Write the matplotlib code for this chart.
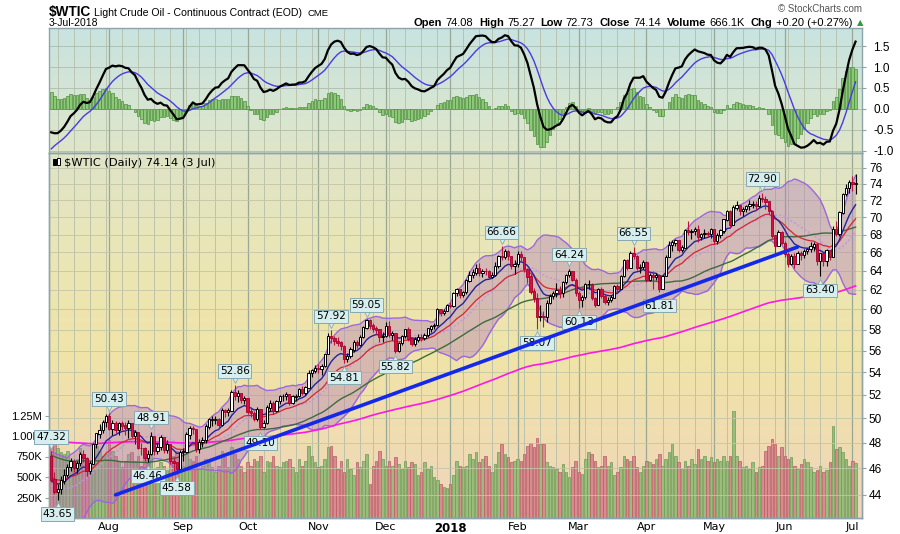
# wtic_chart.py
# Light crude oil daily candles with bands, averages, volume and a MACD panel
import numpy as np
import pandas as pd
import matplotlib
matplotlib.use("Agg")
import matplotlib.pyplot as plt
import matplotlib.colors as mcolors
from matplotlib.patches import Rectangle
from matplotlib.transforms import offset_copy
from matplotlib.ticker import FixedLocator, NullFormatter

# closes before the first visible bar, only used so the averages start where the chart's do
warmup_closes = [49.56, 49.62, 48.97, 49.33, 48.84, 47.66, 47.82, 45.52, 46.22, 46.43,
	45.88, 47.33, 47.83, 47.84, 48.85, 48.66, 49.07, 49.35, 50.33, 50.73,
	51.47, 51.36, 48.90, 49.80, 49.66, 48.32, 48.36, 47.66, 47.40, 48.19,
	45.72, 45.64, 45.83, 46.08, 46.46, 44.73, 44.46, 44.68, 43.20, 43.23,
	42.53, 42.74, 43.01, 43.38, 44.24, 44.74, 44.93, 46.04, 47.07]

start_date = "2017-07-06"
holidays = ["2017-09-04", "2017-11-23", "2017-12-25", "2018-01-01", "2018-01-15",
	"2018-02-19", "2018-03-30", "2018-05-28"]

first_open = 46.90

closes = [
	# Jul 2017
	45.13, 44.23, 44.40, 45.04, 45.49, 46.08, 46.54, 46.02, 46.40, 47.12, 46.79, 45.77, 46.34, 47.89, 48.75, 49.04, 49.71, 50.17,
	# Aug
	49.16, 49.59, 49.03, 49.58, 49.39, 49.17, 49.56, 48.59, 48.82, 47.59, 47.55, 46.78, 47.09, 48.51, 47.37, 47.64, 48.41, 47.43, 47.87, 46.57, 46.44, 45.96, 47.23,
	# Sep
	47.29, 48.66, 49.16, 49.09, 47.48, 48.07, 48.23, 49.30, 49.89, 49.89, 49.91, 49.48, 50.69, 50.55, 50.66, 52.22, 51.88, 52.14, 51.56, 51.67,
	# Oct
	50.58, 50.42, 49.98, 50.79, 49.29, 49.58, 50.92, 51.30, 50.60, 51.45, 51.87, 51.88, 52.04, 51.29, 51.84, 51.90, 52.47, 52.18, 52.64, 53.90, 54.15, 54.38,
	# Nov
	54.30, 54.54, 55.64, 57.35, 57.20, 56.90, 56.75, 56.40, 55.20, 55.50, 56.10, 56.80, 56.50, 57.30, 58.20, 58.90, 58.40, 58.10, 57.99, 57.30, 57.40,
	# Dec
	58.36, 57.47, 57.62, 55.96, 56.69, 57.36, 57.99, 57.14, 56.60, 57.04, 57.30, 57.16, 57.46, 58.09, 58.36, 58.47, 59.97, 59.64, 59.84, 60.42,
	# Jan 2018
	60.37, 61.63, 62.01, 61.44, 61.73, 62.96, 63.57, 63.80, 64.30, 63.73, 63.97, 63.95, 63.37, 63.57, 64.47, 65.61, 65.51, 66.14, 65.56, 64.50, 64.73,
	# Feb
	65.80, 65.45, 64.15, 63.39, 61.79, 61.15, 59.20, 59.29, 59.19, 60.60, 61.34, 61.68, 61.90, 61.68, 62.77, 63.55, 63.91, 63.01, 61.64,
	# Mar
	60.99, 61.25, 62.57, 62.60, 61.15, 60.40, 62.04, 61.36, 60.71, 60.96, 61.19, 62.34, 62.06, 63.40, 65.17, 64.30, 65.88, 65.55, 64.25, 64.38, 64.94,
	# Apr
	63.01, 63.51, 63.37, 63.54, 62.06, 63.42, 65.51, 66.82, 67.07, 67.39, 66.22, 66.52, 68.47, 68.29, 68.38, 68.64, 67.70, 68.05, 68.19, 68.10, 68.57,
	# May
	67.25, 67.93, 68.43, 69.72, 70.73, 69.06, 71.14, 71.36, 70.70, 70.96, 71.31, 71.49, 71.49, 71.28, 72.24, 72.13, 71.84, 70.71, 67.88, 66.73, 68.21, 67.04,
	# Jun
	65.81, 64.75, 65.52, 64.73, 65.95, 65.74, 66.10, 66.36, 66.64, 66.89, 65.06, 65.85, 65.07, 66.22, 65.54, 68.58, 68.08, 70.53, 72.76, 73.45, 74.15,
	# Jul
	73.94, 74.14,
]

highs = [
	47.32, 45.70, 44.80, 45.40, 45.95, 46.30, 46.80, 46.75, 46.60, 47.30, 47.40, 46.90, 46.60, 48.00, 48.80, 49.50, 49.90, 50.40,
	50.43, 49.90, 49.80, 49.70, 49.80, 49.70, 49.90, 49.60, 49.00, 48.90, 48.00, 47.70, 47.40, 48.91, 48.40, 48.00, 48.60, 48.40, 48.20, 47.80, 46.90, 46.50, 47.40,
	47.60, 48.90, 49.40, 49.40, 49.10, 48.30, 48.50, 49.50, 50.00, 50.20, 50.20, 50.00, 50.90, 50.80, 50.90, 52.40, 52.86, 52.40, 52.20, 51.90,
	51.70, 50.90, 50.60, 51.00, 50.80, 49.90, 51.10, 51.60, 51.50, 51.60, 52.00, 52.10, 52.30, 52.10, 52.00, 52.10, 52.60, 52.80, 52.80, 54.20, 54.30, 54.70,
	54.80, 54.80, 55.70, 57.70, 57.92, 57.40, 57.30, 56.90, 56.50, 55.80, 56.30, 57.00, 57.00, 57.50, 58.40, 59.05, 59.00, 58.60, 58.40, 58.10, 57.80,
	58.70, 58.80, 57.90, 57.70, 56.80, 57.50, 58.10, 58.30, 57.30, 57.30, 57.60, 57.60, 57.70, 58.20, 58.50, 58.60, 60.10, 60.00, 60.00, 60.50,
	60.70, 61.80, 62.20, 62.00, 61.90, 63.10, 64.00, 64.20, 64.70, 64.80, 64.20, 64.30, 64.10, 63.90, 64.90, 65.70, 66.66, 66.40, 66.30, 65.60, 65.20,
	66.20, 66.10, 65.40, 64.30, 63.70, 62.20, 61.70, 60.40, 59.80, 60.90, 61.60, 61.90, 62.70, 62.40, 62.90, 63.70, 64.24, 64.00, 63.20,
	61.90, 61.50, 62.70, 63.00, 62.70, 61.30, 62.20, 62.30, 61.60, 61.30, 61.50, 62.50, 62.60, 63.50, 65.30, 65.30, 66.20, 66.55, 65.70, 64.70, 65.20,
	65.10, 63.80, 64.00, 63.80, 63.70, 63.60, 65.70, 67.30, 67.40, 67.50, 67.40, 66.80, 68.60, 69.50, 68.60, 68.90, 69.10, 68.20, 68.60, 68.40, 68.80,
	68.60, 68.20, 68.60, 69.80, 70.80, 70.80, 71.40, 71.90, 71.40, 71.20, 71.50, 72.00, 71.90, 71.90, 72.60, 72.90, 72.50, 71.90, 70.80, 68.00, 68.50, 68.40,
	67.30, 66.00, 65.80, 65.90, 66.10, 66.20, 66.40, 66.50, 67.20, 67.10, 67.00, 65.90, 66.00, 66.40, 66.30, 69.00, 69.50, 70.70, 72.90, 74.00, 74.50,
	75.00, 75.27,
]

lows = [
	44.95, 44.05, 43.65, 44.10, 44.80, 45.30, 45.80, 45.70, 45.60, 46.20, 46.50, 45.40, 45.55, 46.30, 47.60, 48.40, 48.80, 49.30,
	49.00, 48.60, 48.80, 48.60, 49.00, 48.60, 48.40, 48.40, 47.90, 47.50, 47.00, 46.60, 46.46, 47.00, 47.00, 47.10, 47.40, 47.20, 47.20, 46.30, 45.80, 45.58, 45.90,
	46.60, 47.20, 48.30, 48.70, 47.30, 47.20, 47.70, 48.00, 49.10, 49.40, 49.50, 49.20, 49.40, 50.10, 50.20, 50.60, 51.60, 51.40, 51.30, 51.20,
	50.40, 50.10, 49.80, 49.80, 49.10, 49.20, 49.50, 50.60, 50.40, 50.50, 51.20, 51.50, 51.60, 51.10, 51.20, 51.50, 51.80, 52.00, 52.00, 52.60, 53.60, 53.90,
	53.90, 53.80, 54.50, 55.80, 56.70, 56.50, 56.40, 56.10, 54.81, 54.90, 55.30, 55.90, 56.20, 56.40, 57.20, 58.10, 58.10, 57.80, 57.60, 56.80, 56.80,
	57.30, 57.30, 57.00, 55.82, 55.90, 56.50, 57.20, 56.90, 56.40, 56.40, 56.80, 56.90, 57.00, 57.30, 57.80, 58.10, 58.40, 59.30, 59.40, 59.80,
	60.10, 60.20, 61.40, 61.20, 61.30, 61.60, 62.80, 63.20, 63.60, 63.40, 63.30, 63.60, 63.10, 63.20, 63.40, 64.30, 65.20, 65.30, 65.20, 64.20, 63.70,
	64.40, 65.00, 63.90, 62.70, 61.60, 60.70, 58.07, 58.80, 58.30, 58.70, 60.50, 61.00, 61.30, 61.20, 61.30, 62.60, 63.30, 62.90, 61.40,
	60.13, 60.20, 61.00, 62.10, 60.90, 60.20, 60.50, 61.20, 60.50, 60.40, 60.70, 61.20, 61.80, 62.10, 63.30, 64.10, 64.40, 65.30, 64.10, 63.80, 64.20,
	62.80, 62.90, 62.10, 63.00, 61.81, 62.10, 63.40, 65.50, 66.20, 66.70, 66.00, 66.00, 66.60, 68.00, 67.50, 67.90, 67.20, 67.40, 67.60, 67.70, 67.60,
	66.90, 66.90, 67.60, 68.20, 69.60, 68.70, 69.20, 70.90, 70.30, 70.10, 70.60, 70.90, 71.10, 70.90, 71.20, 71.80, 71.00, 70.40, 67.60, 65.80, 66.80, 66.90,
	65.50, 64.40, 64.60, 64.30, 64.70, 65.20, 65.40, 65.80, 66.00, 66.20, 64.60, 63.40, 64.50, 64.50, 65.20, 65.70, 67.80, 67.80, 70.40, 72.50, 72.90,
	73.10, 72.73,
]

# volume in thousands of contracts
volumes_k = [
	900, 1000, 850, 800, 780, 820, 700, 650, 720, 850, 760, 700, 680, 900, 880, 820, 760, 780,
	950, 820, 760, 700, 620, 700, 780, 800, 700, 760, 640, 720, 780, 800, 600, 620, 680, 640, 580, 700, 760, 820, 700,
	640, 780, 720, 700, 760, 600, 640, 720, 680, 620, 560, 640, 820, 740, 620, 860, 780, 720, 640, 560,
	680, 640, 720, 700, 760, 560, 700, 680, 760, 640, 620, 680, 700, 720, 620, 560, 720, 640, 700, 880, 760, 680,
	620, 640, 720, 860, 880, 760, 600, 700, 560, 720, 600, 520, 680, 620, 700, 780, 420, 640, 700, 820, 720,
	640, 700, 640, 740, 660, 600, 700, 620, 680, 660, 520, 560, 680, 600, 640, 500, 460, 420, 380, 360,
	420, 520, 700, 640, 620, 640, 780, 720, 800, 680, 720, 760, 640, 560, 660, 800, 900, 780, 740, 680, 700,
	720, 700, 780, 880, 920, 860, 980, 900, 900, 680, 640, 620, 600, 560, 660, 560, 500, 620, 700,
	560, 540, 720, 800, 780, 700, 620, 640, 760, 640, 680, 520, 560, 620, 760, 720, 700, 760, 620, 560, 640,
	700, 680, 660, 720, 780, 640, 720, 800, 900, 760, 680, 600, 700, 640, 720, 660, 840, 720, 760, 700, 740,
	680, 720, 700, 760, 700, 760, 1300, 760, 700, 620, 640, 600, 680, 560, 620, 640, 820, 880, 960, 900, 760, 860,
	760, 720, 740, 640, 600, 660, 720, 680, 620, 560, 580, 640, 560, 580, 680, 1120, 840, 860, 800, 720, 640,
	700, 666,
]

# starting value of the long (200 day) average at the first bar
ma200_start = 48.2

# hand drawn trend line (bar index, price)
trend_idx = [20, 232]
trend_px = [44.0, 66.6]

# bars carrying a high / low price label
label_high_idx = [0, 18, 31, 57, 87, 98, 140, 161, 181, 221]
label_low_idx = [2, 30, 39, 65, 91, 107, 151, 164, 189, 239]

# header quote for the last bar
quote_open = 74.08
quote_volume = "666.1K"
quote_chg = "+0.20 (+0.27%)"

price_ticks = list(range(44, 77, 2))
macd_ticks = [-1.0, -0.5, 0.0, 0.5, 1.0, 1.5]
vol_ticks = [250, 500, 750, 1000, 1250]
vol_tick_labels = ["250K", "500K", "750K", "1.00M", "1.25M"]

W, H = 900, 534
NUM_FONT = "Liberation Sans"
TXT_FONT = "DejaVu Sans"


def px_box(left, top, right, bottom):
	"""figure fraction box from pixel edges measured from the top left"""
	return [left / W, 1 - bottom / H, (right - left) / W, (bottom - top) / H]


def gradient(axis, stops):
	"""vertical colour gradient behind an axes, stops go top -> bottom"""
	pos = [s[0] for s in stops]
	cols = np.array([mcolors.to_rgb(s[1]) for s in stops])
	t = np.linspace(0, 1, 256)
	img = np.stack([np.interp(t, pos, cols[:, k]) for k in range(3)], axis=1)[:, None, :]
	axis.imshow(img, extent=(0, 1, 0, 1), transform=axis.transAxes, aspect="auto",
	            origin="upper", zorder=-10, interpolation="bilinear")


def chain_right(anchor_ax, pieces, x_right, y, size):
	"""
	lay text pieces right to left so the last one ends at x_right (figure px)
	:param pieces: (text, weight, gap in points to the piece on its left)
	"""
	prev = None
	gap_right = 0
	for txt, weight, gap in reversed(pieces):
		if prev is None:
			prev = anchor_ax.figure.text(x_right / W, 1 - y / H, txt, ha="right", va="bottom",
			                             fontsize=size, fontweight=weight, family=NUM_FONT)
		else:
			prev = anchor_ax.annotate(txt, xy=(0, 0), xycoords=prev, xytext=(-gap_right, 0),
			                          textcoords="offset points", ha="right", va="bottom",
			                          fontsize=size, fontweight=weight, family=NUM_FONT,
			                          annotation_clip=False)
		gap_right = gap
	return prev


# ---- data prep
n = len(closes)
x = np.arange(n)
c = np.array(closes)
o = np.array([first_open] + closes[:-1])
hi = np.maximum(np.array(highs), np.maximum(o, c))
lo = np.minimum(np.array(lows), np.minimum(o, c))
vol = np.array(volumes_k)
up = c >= o

dates = pd.bdate_range(start=start_date, periods=n, freq="C", holidays=holidays)

full = pd.Series(warmup_closes + closes)
k = len(warmup_closes)
ema10 = full.ewm(span=10, adjust=False).mean().values[k:]
ema20 = full.ewm(span=20, adjust=False).mean().values[k:]
sma50 = full.rolling(50, min_periods=1).mean().values[k:]
bb_mid = full.rolling(20).mean().values[k:]
bb_sd = full.rolling(20).std(ddof=0).values[k:]
bb_up = bb_mid + 2 * bb_sd
bb_lo = bb_mid - 2 * bb_sd
ema200 = pd.Series([ma200_start] + closes[1:]).ewm(span=200, adjust=False).mean().values
macd_full = full.ewm(span=12, adjust=False).mean() - full.ewm(span=26, adjust=False).mean()
signal_full = macd_full.ewm(span=9, adjust=False).mean()
macd = macd_full.values[k:]
signal = signal_full.values[k:]
hist = macd - signal

month_idx = [i for i in range(1, n) if dates[i].month != dates[i - 1].month]
month_lab = ["2018" if dates[i].month == 1 else dates[i].strftime("%b") for i in month_idx]
week_idx = [i for i in range(1, n) if dates[i].weekday() < dates[i - 1].weekday()]

# ---- figure
fig = plt.figure(figsize=(W / 100, H / 100), dpi=100)
ax_macd = fig.add_axes(px_box(49, 28, 862, 153))
ax_vol = fig.add_axes(px_box(49, 153, 862, 518), sharex=ax_macd)
ax = ax_vol.twinx()

gradient(ax_macd, [(0, "#c8e3e1"), (0.5, "#d3e5d6"), (1, "#dfe6c8")])
gradient(ax_vol, [(0, "#dfe4c8"), (0.3, "#ebe6b4"), (0.55, "#f0e4a8"), (0.8, "#f0dcb2"), (1, "#efd4be")])

edge_col = "#8ea4a8"
for a in (ax_macd, ax_vol, ax):
	for s in a.spines.values():
		s.set_color(edge_col)
		s.set_linewidth(1.0)

# grid: weekly thin, monthly darker
for a in (ax_macd, ax_vol):
	for i in week_idx:
		a.axvline(i, color="#b6bea8", lw=0.6, zorder=-5)
	for i in month_idx:
		a.axvline(i, color="#98a894", lw=0.9, zorder=-4)
for v in macd_ticks:
	ax_macd.axhline(v, color="#aebcaa", lw=0.6, zorder=-5)

# ---- MACD panel
ax_macd.bar(x, hist, width=0.78, color="#8cc878", edgecolor="#4e8e3e", lw=0.5, zorder=2)
ax_macd.plot(x, signal, color="#4a3ae0", lw=1.0, zorder=3)
ax_macd.plot(x, macd, color="black", lw=1.6, zorder=4)
ax_macd.set_ylim(-1.05, 1.93)
ax_macd.yaxis.tick_right()
ax_macd.set_yticks(macd_ticks)
ax_macd.set_yticklabels([f"{v:.1f}" for v in macd_ticks], family=NUM_FONT, fontsize=8.5)
ax_macd.tick_params(axis="y", length=3, color=edge_col, pad=5)
ax_macd.tick_params(axis="x", length=0, labelbottom=False)

# ---- volume
vcol = np.where(up, "#9bbd7c", "#d98c8e")
vedge = np.where(up, "#6f9a56", "#b85a66")
ax_vol.bar(x, vol, width=0.78, color=vcol, edgecolor=vedge, lw=0.5, zorder=1)
ax_vol.set_ylim(0, 250 * 365 / 20.5)
ax_vol.set_yticks(vol_ticks)
ax_vol.set_yticklabels(vol_tick_labels, family=NUM_FONT, fontsize=8)
ax_vol.tick_params(axis="y", length=3, color=edge_col, pad=2)
ax_vol.set_xticks(month_idx)
ax_vol.set_xticklabels(month_lab, family=TXT_FONT, fontsize=8)
for t, lab in zip(ax_vol.get_xticklabels(), month_lab):
	if lab == "2018":
		t.set_fontweight("bold")
		t.set_fontsize(8.5)
ax_vol.xaxis.set_minor_locator(FixedLocator(x))
ax_vol.xaxis.set_minor_formatter(NullFormatter())
ax_vol.tick_params(axis="x", which="major", length=0, pad=3)
ax_vol.tick_params(axis="x", which="minor", length=2, direction="in", color="#9ab0b4", width=0.6)

# ---- price panel
ax.set_yscale("log")
for v in price_ticks:
	ax.axhline(v, color="#c2c6a6", lw=0.6, zorder=0)

ax.fill_between(x, bb_lo, bb_up, color="#b07ab8", alpha=0.4, lw=0, zorder=2)
ax.plot(x, bb_up, color="#9c66dc", lw=1.0, zorder=2.5)
ax.plot(x, bb_lo, color="#9c66dc", lw=1.0, zorder=2.5)
ax.plot(x, bb_mid, color="#c496dc", lw=1.0, ls=(0, (1.5, 1.5)), zorder=2.6)
ax.plot(x, ema200, color="#ff18e4", lw=1.2, zorder=2.7)
ax.plot(x, sma50, color="#3e6a3e", lw=1.0, zorder=2.8)
ax.plot(x, ema20, color="#d42436", lw=0.9, zorder=2.9)
ax.plot(x, ema10, color="#26229c", lw=1.0, zorder=3)

# candles
wick_col = np.where(up, "black", "#c0123c")
ax.vlines(x, lo, hi, colors=wick_col, lw=0.8, zorder=4)
body_lo = np.minimum(o, c)
body_h = np.abs(c - o) + 0.03
ax.bar(x[up], body_h[up], bottom=body_lo[up], width=0.72, color="white",
       edgecolor="black", lw=0.7, zorder=5)
ax.bar(x[~up], body_h[~up], bottom=body_lo[~up], width=0.72, color="#d4103c",
       edgecolor="#a8002e", lw=0.6, zorder=5)

# high / low labels
box_fc, box_ec = "#d6eeee", "#88a8b0"
for i in label_high_idx:
	ax.annotate(f"{hi[i]:.2f}", xy=(i, hi[i]), xytext=(0, 6.5), textcoords="offset points",
	            ha="center", va="bottom", fontsize=7.5, family=TXT_FONT, zorder=8,
	            bbox=dict(boxstyle="square,pad=0.18", fc=box_fc, ec=box_ec, lw=0.7),
	            annotation_clip=False)
	ax.plot(i, hi[i], marker="v", ms=6, mfc=box_fc, mec=box_ec, mew=0.6, zorder=7.9, clip_on=False,
	        transform=offset_copy(ax.transData, fig=fig, y=4.5, units="points"))
for i in label_low_idx:
	ax.annotate(f"{lo[i]:.2f}", xy=(i, lo[i]), xytext=(0, -6.5), textcoords="offset points",
	            ha="center", va="top", fontsize=7.5, family=TXT_FONT, zorder=8,
	            bbox=dict(boxstyle="square,pad=0.18", fc=box_fc, ec=box_ec, lw=0.7),
	            annotation_clip=False)
	ax.plot(i, lo[i], marker="^", ms=6, mfc=box_fc, mec=box_ec, mew=0.6, zorder=7.9, clip_on=False,
	        transform=offset_copy(ax.transData, fig=fig, y=-4.5, units="points"))

# trend line sits on top of everything
ax.plot(trend_idx, trend_px, color="#1428ec", lw=2.6, solid_capstyle="round", zorder=9)

ax.set_ylim(42.33, 77.93)
ax.yaxis.set_major_locator(FixedLocator(price_ticks))
ax.yaxis.set_minor_locator(FixedLocator([]))
ax.set_yticklabels([str(v) for v in price_ticks], family=NUM_FONT, fontsize=8.5)
ax.tick_params(axis="y", length=3, color=edge_col, pad=2)

ax_macd.set_xlim(-0.7, 252.0)

# little candle icon and the series caption
for ix, (bx, by, bh) in enumerate([(53, 159, 6), (57, 158, 7)]):
	fig.add_artist(Rectangle((bx / W, 1 - (by + bh) / H), 2.5 / W, bh / H, transform=fig.transFigure,
	                         fc="black" if ix == 0 else "white", ec="black", lw=0.7, zorder=10))
ax.text(0.018, 0.973, f"$WTIC (Daily) {closes[-1]:.2f} (3 Jul)", transform=ax.transAxes,
        ha="left", va="center", fontsize=8.2, family=TXT_FONT, zorder=10)

# ---- header
fig.text(49 / W, 1 - 16 / H, "$WTIC", fontsize=9.8, fontweight="bold", family=NUM_FONT, va="baseline")
fig.text(94 / W, 1 - 16 / H, "Light Crude Oil - Continuous Contract (EOD)", fontsize=7.6,
         family=NUM_FONT, va="baseline")
fig.text(308 / W, 1 - 16 / H, "CME", fontsize=6.8, family=NUM_FONT, va="baseline")
fig.text(49 / W, 1 - 23 / H, "3-Jul-2018", fontsize=7.5, family=NUM_FONT, va="center")
fig.text(862 / W, 1 - 9 / H, "\u00a9 StockCharts.com", fontsize=7, family=NUM_FONT,
         color="#555555", ha="right", va="center")

header = [("Open", "bold", 0), (f"{quote_open:.2f}", "normal", 2.2),
          ("High", "bold", 4.4), (f"{hi[-1]:.2f}", "normal", 2.2),
          ("Low", "bold", 4.4), (f"{lo[-1]:.2f}", "normal", 2.2),
          ("Close", "bold", 4.4), (f"{c[-1]:.2f}", "normal", 2.2),
          ("Volume", "bold", 4.4), (quote_volume, "normal", 2.2),
          ("Chg", "bold", 4.4), (quote_chg, "normal", 2.2)]
chain_right(ax, header, 852, 28.5, 8)
fig.text(860 / W, 1 - 23 / H, "\u25b2", fontsize=6, color="#2e9a3a", ha="center", va="center",
         family=TXT_FONT)

fig.savefig("out.png", dpi=100)
